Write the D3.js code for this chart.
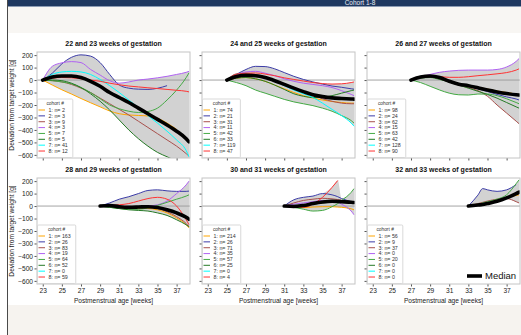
<!DOCTYPE html>
<html>
<head>
<meta charset="utf-8">
<script src="https://cdn.jsdelivr.net/npm/d3@7"></script>
<style>
  body { margin: 0; background: #fff; }
  svg { display: block; font-family: "Liberation Sans", Arial, sans-serif; }
</style>
</head>
<body>
<svg id="chart" width="521" height="335"></svg>
<script>
// ---- data ----
const titles = [
  '22 and 23 weeks of gestation', '24 and 25 weeks of gestation', '26 and 27 weeks of gestation',
  '28 and 29 weeks of gestation', '30 and 31 weeks of gestation', '32 and 33 weeks of gestation'
];
const xTicks = [23, 25, 27, 29, 31, 33, 35, 37];
const yTicks = [200, 100, 0, -100, -200, -300, -400, -500, -600];

// cohort sizes per panel (cohorts 1..8)
const nCounts = [
  [2, 3, 9, 3, 7, 5, 41, 12],
  [74, 21, 31, 11, 42, 33, 119, 47],
  [98, 24, 62, 15, 63, 42, 128, 90],
  [163, 26, 83, 19, 64, 52, 0, 59],
  [214, 26, 71, 35, 57, 25, 0, 4],
  [56, 9, 37, 0, 20, 0, 0, 0]
];

// weeks of each panel's grid
const weeks22 = [23, 24, 25, 26, 27, 28, 29, 30, 31, 32, 33, 34, 35, 36, 37, 38, 38.3];
const weeks24 = [25, 26, 27, 28, 29, 30, 31, 32, 33, 34, 35, 36, 37, 38, 38.3];
const weeks26 = [27, 28, 29, 30, 31, 32, 33, 34, 35, 36, 37, 38, 38.3];
const weeks28 = [29, 30, 31, 32, 33, 34, 35, 36, 37, 38, 38.3];
const weeks30 = [31, 32, 33, 34, 35, 36, 36.6, 37, 38, 38.3];
const weeks32 = [33, 34, 34.5, 35, 36, 37, 38, 38.3];

// deviation from target weight [g], cohorts 1..8 (null = no children)
const cohorts22 = [
  [0, -40, -78, -112, -148, -182, -215, -248, -270, -280, -284, -288, -305, -345, -395, null, null],
  [0, 55, 130, 182, 202, 192, 140, 45, -40, -65, -73, -75, -66, -45, null, null, null],
  [0, -5, -15, -35, -65, -100, -145, -190, -235, -280, -330, -380, -430, -480, -530, -590, -610],
  [0, 110, 138, 148, 140, 85, 40, -5, -25, -15, 0, 8, 18, 30, 45, 62, 70],
  [0, -5, -15, -30, -60, -100, -150, -200, -230, -250, -260, -252, -225, -160, -80, 20, 58],
  [0, 0, -5, -25, -60, -110, -170, -240, -320, -400, -470, -530, -580, -615, -650, -690, -700],
  [0, 45, 65, 70, 65, 45, 5, -45, -100, -160, -220, -285, -345, -410, -480, -565, -615],
  [0, 15, 20, 18, 10, 0, -10, -25, -38, -48, -55, -62, -68, -75, -82, -90, -95]
];
const median22 = [0, 25, 33, 32, 20, -10, -50, -100, -140, -180, -225, -270, -315, -360, -410, -470, -495];

const cohorts24 = [
  [0, 15, 20, 10, -10, -40, -70, -100, -125, -145, -160, -172, -180, -185, -185],
  [0, 45, 85, 110, 108, 90, 60, 30, 5, -15, -32, -48, -58, -70, -73],
  [0, 50, 55, 45, 25, 0, -30, -60, -90, -120, -150, -170, -185, -190, -190],
  [0, 40, 65, 70, 55, 35, 10, -10, -25, -35, -45, -60, -85, -115, -125],
  [0, -20, -45, -80, -105, -130, -155, -175, -190, -205, -225, -250, -285, -325, -345],
  [0, 15, 20, 10, -10, -40, -75, -110, -130, -140, -138, -125, -105, -85, -80],
  [0, 30, 45, 40, 20, -10, -45, -80, -110, -140, -185, -235, -285, -345, -370],
  [0, 45, 55, 57, 48, 35, 18, 5, -8, -20, -28, -32, -30, -20, -15]
];
const median24 = [0, 28, 38, 35, 20, -5, -35, -65, -93, -118, -133, -143, -148, -152, -153];

const cohorts26 = [
  [0, 22, 30, 15, -10, -30, -45, -58, -72, -88, -100, -115, -125],
  [0, 20, 28, 18, -5, -30, -50, -70, -92, -115, -135, -152, -160],
  [0, 20, 25, 10, -15, -40, -62, -85, -130, -200, -265, -330, -350],
  [0, 25, 45, 62, 72, 78, 80, 80, 80, 85, 105, 150, 172],
  [0, -20, -50, -80, -105, -118, -120, -112, -112, -125, -150, -180, -190],
  [0, 15, 20, 5, -15, -40, -65, -90, -115, -145, -180, -215, -225],
  [0, 30, 35, 22, -5, -30, -45, -62, -80, -95, -108, -118, -122],
  [0, 20, 30, 28, 22, 22, 27, 35, 42, 50, 60, 80, 90]
];
const median26 = [0, 25, 32, 20, -10, -33, -45, -62, -80, -95, -108, -118, -120];

const cohorts28 = [
  [0, -5, -12, -18, -20, -20, -30, -55, -95, -150, -175],
  [0, 25, 55, 75, 100, 125, 130, 122, 118, 118, 120],
  [0, 5, -2, -8, -12, -10, -20, -45, -85, -140, -165],
  [0, -5, -8, -10, -5, 0, 10, 40, 100, 170, 200],
  [0, -10, -20, -25, -25, -15, 5, 30, 55, 80, 90],
  [0, -10, -20, -30, -35, -40, -55, -75, -110, -150, -165],
  null,
  [0, 5, 10, 20, 40, 60, 70, 55, 0, -110, -150]
];
const median28 = [0, 5, -5, -10, -8, -5, -12, -30, -55, -90, -105];

const cohorts30 = [
  [0, -5, -12, -8, -5, -5, -8, -10, -22, -30],
  [0, 50, 70, 80, 100, 90, 75, 60, 35, 25],
  [0, 25, 45, 55, 62, 58, 52, 45, 35, 30],
  [0, 15, 25, 35, 45, 40, 30, 15, -40, -70],
  [0, -10, -25, -40, -35, -5, 20, 45, 110, 140],
  [0, 5, 10, 15, 25, 30, 30, 30, 28, 25],
  null,
  [0, 5, -10, 15, 70, 150, 205, null, null, null]
];
const median30 = [0, -3, 5, 20, 32, 38, 37, 35, 30, 28];

const cohorts32 = [
  [0, 10, 15, 25, 45, 70, 85, 90],
  [0, 88, 140, 130, 118, 130, 172, null],
  [0, 20, 30, 40, 55, 60, 35, 25],
  null,
  [0, 15, 25, 35, 55, 90, 180, 210],
  null,
  null,
  null
];
const median32 = [0, 8, 12, 20, 38, 65, 100, 112];

const panelWeeks = [weeks22, weeks24, weeks26, weeks28, weeks30, weeks32];
const panelCohorts = [cohorts22, cohorts24, cohorts26, cohorts28, cohorts30, cohorts32];
const panelMedians = [median22, median24, median26, median28, median30, median32];

const cohortColors = ['#ffa500', '#3c3ca8', '#a8504c', '#b062f2', '#44aa44', '#267a26', '#00ffff', '#ff3333'];

// ---- layout ----
const colX = [37, 202, 367];
const rowY = [52, 178];
const pw = 153, ph = 106;

const x = d3.scaleLinear().domain([22.4, 38.4]).range([0, pw]);
const y = d3.scaleLinear().domain([-625, 225]).range([ph, 0]);

const svg = d3.select('#chart');

// slide chrome
svg.append('rect').attr('x', 7).attr('y', 0).attr('width', 514).attr('height', 6).attr('fill', '#1f3860');
svg.append('rect').attr('x', 7).attr('y', 6).attr('width', 514).attr('height', 1).attr('fill', '#8d9cb4');
svg.append('rect').attr('x', 7).attr('y', 7).attr('width', 514).attr('height', 26).attr('fill', '#f8f6f3');
svg.append('rect').attr('x', 7).attr('y', 305).attr('width', 514).attr('height', 30).attr('fill', '#f6f3ef');
svg.append('line').attr('x1', 7.5).attr('x2', 7.5).attr('y1', 0).attr('y2', 335)
  .attr('stroke', '#4a4a4a').attr('stroke-width', 1);
svg.append('text').attr('x', 360).attr('y', 5.2).attr('text-anchor', 'middle')
  .attr('font-size', 6.5).attr('fill', '#e8ecf2').text('Cohort 1-8');

const line = d3.line()
  .defined(d => d[1] != null)
  .x(d => x(d[0]))
  .y(d => y(d[1]))
  .curve(d3.curveMonotoneX);

const band = d3.area()
  .defined(d => d != null)
  .x(d => x(d.w))
  .y0(d => y(d.lo))
  .y1(d => y(d.hi))
  .curve(d3.curveMonotoneX);

panelWeeks.forEach((wk, i) => {
  const col = i % 3, row = Math.floor(i / 3);
  const series = panelCohorts[i];
  const g = svg.append('g').attr('transform', `translate(${colX[col]},${rowY[row]})`);

  g.append('clipPath').attr('id', 'clip' + i)
    .append('rect').attr('width', pw).attr('height', ph);
  const plot = g.append('g').attr('clip-path', `url(#clip${i})`);

  // min-max envelope of the cohorts
  const env = wk.map((w, j) => {
    const vals = series.filter(s => s && s[j] != null).map(s => s[j]);
    return vals.length ? {w: w, lo: d3.min(vals), hi: d3.max(vals)} : null;
  });
  plot.append('path').datum(env).attr('d', band).attr('fill', '#d2d2d2');

  plot.append('line').attr('x1', 0).attr('x2', pw).attr('y1', y(0)).attr('y2', y(0))
    .attr('stroke', '#9a9a9a').attr('stroke-width', 0.9);

  series.forEach((s, k) => {
    if (!s) return;
    plot.append('path').datum(wk.map((w, j) => [w, s[j]]))
      .attr('d', line).attr('fill', 'none')
      .attr('stroke', cohortColors[k]).attr('stroke-width', 1);
  });

  plot.append('path').datum(wk.map((w, j) => [w, panelMedians[i][j]]))
    .attr('d', line).attr('fill', 'none')
    .attr('stroke', '#000').attr('stroke-width', 3.6).attr('stroke-linecap', 'round');

  // axes
  const xAx = d3.axisBottom(x).tickValues(xTicks).tickSize(2.5).tickPadding(2);
  if (row === 0) xAx.tickFormat('');
  g.append('g').attr('transform', `translate(0,${ph})`).call(xAx)
    .call(a => a.select('.domain').remove())
    .attr('font-size', 6.6).attr('font-family', null)
    .call(a => a.selectAll('line').attr('stroke', '#555'))
    .call(a => a.selectAll('text').attr('fill', '#222'));

  const yAx = d3.axisLeft(y).tickValues(yTicks).tickSize(2.5).tickPadding(1.5);
  if (col !== 0) yAx.tickFormat('');
  g.append('g').call(yAx)
    .call(a => a.select('.domain').remove())
    .attr('font-size', 6.6).attr('font-family', null)
    .call(a => a.selectAll('line').attr('stroke', '#555'))
    .call(a => a.selectAll('text').attr('fill', '#222'));

  // frame
  g.append('rect').attr('x', 0).attr('y', 0).attr('width', pw).attr('height', ph)
    .attr('fill', 'none').attr('stroke', '#c4c4c4').attr('stroke-width', 1);

  // title
  g.append('text').attr('x', pw / 2).attr('y', -6).attr('text-anchor', 'middle')
    .attr('font-size', 7).attr('font-weight', 'bold').attr('fill', '#111')
    .text(titles[i]);

  if (col === 0) {
    g.append('text')
      .attr('transform', `translate(${14 - colX[0]},${ph / 2}) rotate(-90)`)
      .attr('text-anchor', 'middle').attr('font-size', 6.6).attr('fill', '#222')
      .text('Deviation from target weight [g]');
  }
  if (row === 1) {
    g.append('text').attr('x', pw / 2).attr('y', ph + 18.5).attr('text-anchor', 'middle')
      .attr('font-size', 6.6).attr('fill', '#222')
      .text('Postmenstrual age [weeks]');
  }

  // legend
  const lg = g.append('g').attr('transform', `translate(0.5,${ph - 59})`);
  const box = lg.append('rect').attr('height', 58.5).attr('rx', 1)
    .attr('fill', '#fff').attr('stroke', '#cfcfcf').attr('stroke-width', 0.8);
  const ttl = lg.append('text').attr('y', 6).attr('text-anchor', 'middle')
    .attr('font-size', 4.8).attr('fill', '#333').text('cohort #');
  let maxW = 0;
  nCounts[i].forEach((n, k) => {
    const ly = 11 + k * 5.86;
    lg.append('line').attr('x1', 1).attr('x2', 7.5).attr('y1', ly).attr('y2', ly)
      .attr('stroke', cohortColors[k]).attr('stroke-width', 1);
    const t = lg.append('text').attr('x', 11).attr('y', ly + 1.8)
      .attr('font-size', 5.3).attr('fill', '#333').text(`${k + 1}: n= ${n}`);
    maxW = Math.max(maxW, t.node().getComputedTextLength());
  });
  const bw = 11 + maxW + 5;
  box.attr('width', bw);
  ttl.attr('x', bw / 2);
});

// median key in the last panel
const mk = svg.append('g').attr('transform', 'translate(467,276)');
mk.append('line').attr('x1', 0).attr('x2', 15).attr('y1', 0).attr('y2', 0)
  .attr('stroke', '#000').attr('stroke-width', 3.6);
mk.append('text').attr('x', 18).attr('y', 3.4).attr('font-size', 9.5).attr('fill', '#111').text('Median');
</script>
</body>
</html>
